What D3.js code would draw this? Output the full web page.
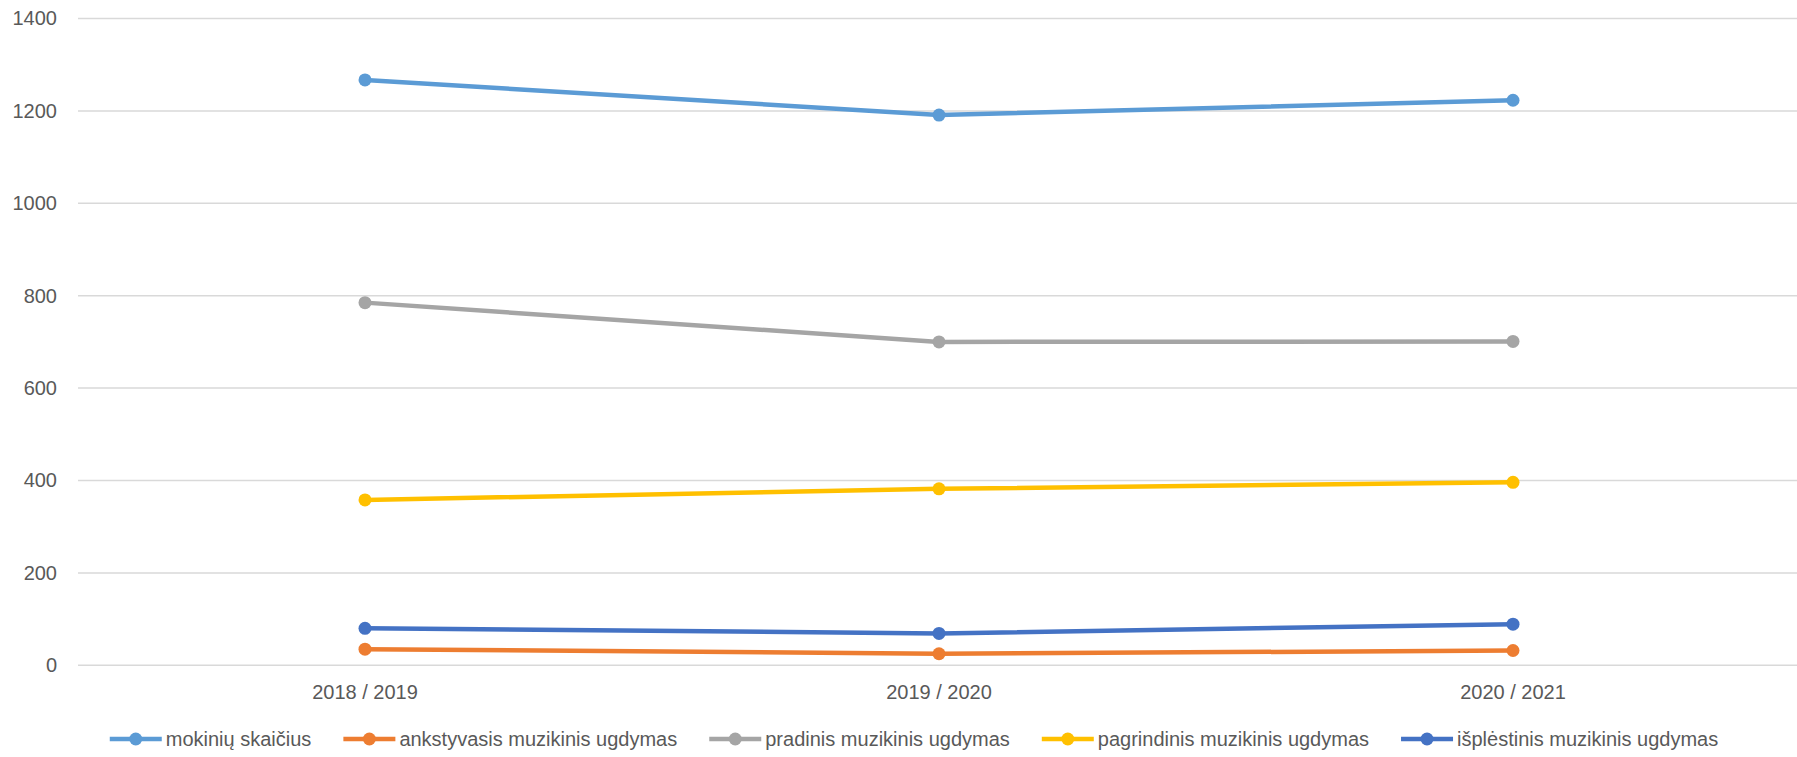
<!DOCTYPE html>
<html>
<head>
<meta charset="utf-8">
<script src="https://cdn.jsdelivr.net/npm/d3@7"></script>
<style>
  body { margin: 0; background: #fff; }
  text { font-family: "Liberation Sans", Arial, sans-serif; fill: #595959; }
</style>
</head>
<body>
<svg id="chart"></svg>
<script>
// data
const years = ["2018 / 2019", "2019 / 2020", "2020 / 2021"];
const seriesNames = [
  "mokinių skaičius",
  "ankstyvasis muzikinis ugdymas",
  "pradinis muzikinis ugdymas",
  "pagrindinis muzikinis ugdymas",
  "išplėstinis muzikinis ugdymas",
];
const mokiniai = [1267, 1191, 1223];
const ankstyvasis = [35, 25, 32];
const pradinis = [785, 700, 701];
const pagrindinis = [358, 382, 396];
const isplestinis = [80, 69, 89];
const yTicks = [0, 200, 400, 600, 800, 1000, 1200, 1400];
const colors = ["#5B9BD5", "#ED7D31", "#A5A5A5", "#FFC000", "#4472C4"];

const seriesValues = [mokiniai, ankstyvasis, pradinis, pagrindinis, isplestinis];

var W = 1797, H = 757;
var margin = { top: 18.5, right: -3, bottom: 91.7, left: 78 };
var width = W - margin.left - margin.right,
  height = H - margin.top - margin.bottom;

const svg = d3.select("#chart").attr("width", W).attr("height", H);
const g = svg.append("g").attr("transform", `translate(${margin.left}, ${margin.top})`);

const x = d3.scaleBand().domain(years).range([0, width]);
const y = d3.scaleLinear().domain([0, 1400]).range([height, 0]);

// gridlines
g.append("g")
  .selectAll("line")
  .data(yTicks)
  .join("line")
  .attr("x1", 0)
  .attr("x2", width)
  .attr("y1", (d) => y(d))
  .attr("y2", (d) => y(d))
  .attr("stroke", "#d9d9d9")
  .attr("stroke-width", 1.5);

// y axis labels
const yAxis = g.append("g")
  .call(d3.axisLeft(y).tickValues(yTicks).tickFormat(d3.format("d")).tickSize(0).tickPadding(21));
yAxis.select(".domain").remove();
yAxis.selectAll("text").attr("font-size", "20px").attr("font-family", null).attr("fill", "#595959");

// x axis labels
const xAxis = g.append("g")
  .attr("transform", `translate(0, ${height})`)
  .call(d3.axisBottom(x).tickSize(0).tickPadding(20));
xAxis.select(".domain").remove();
xAxis.selectAll("text").attr("font-size", "20px").attr("font-family", null).attr("fill", "#595959");

// lines + markers
const line = d3.line()
  .x((d, i) => x(years[i]) + x.bandwidth() / 2)
  .y((d) => y(d));

seriesValues.forEach((vals, k) => {
  g.append("path")
    .datum(vals)
    .attr("d", line)
    .attr("fill", "none")
    .attr("stroke", colors[k])
    .attr("stroke-width", 4.5)
    .attr("stroke-linejoin", "round")
    .attr("stroke-linecap", "round");
  g.selectAll("circle.s" + k)
    .data(vals)
    .join("circle")
    .attr("class", "s" + k)
    .attr("cx", (d, i) => x(years[i]) + x.bandwidth() / 2)
    .attr("cy", (d) => y(d))
    .attr("r", 6.5)
    .attr("fill", colors[k]);
});

// legend
const legend = svg.append("g").attr("transform", `translate(0, 739)`);
var pos = 0;
const gap = 32;
const items = [];
seriesNames.forEach((name, k) => {
  const it = legend.append("g");
  it.append("line")
    .attr("x1", 0).attr("x2", 52)
    .attr("stroke", colors[k]).attr("stroke-width", 4.5);
  it.append("circle").attr("cx", 26).attr("r", 6.5).attr("fill", colors[k]);
  const t = it.append("text")
    .attr("x", 56)
    .attr("dy", "0.35em")
    .attr("font-size", "20px")
    .text(name);
  const w = 56 + t.node().getComputedTextLength();
  items.push({ it: it, off: pos });
  pos += w + gap;
});
pos -= gap;
const start = 914 - pos / 2;
items.forEach((d) => d.it.attr("transform", `translate(${start + d.off}, 0)`));
</script>
</body>
</html>
